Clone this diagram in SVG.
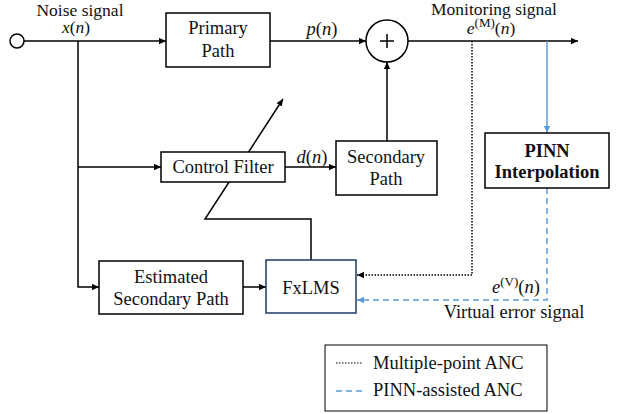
<svg xmlns="http://www.w3.org/2000/svg" width="618" height="414" viewBox="0 0 618 414">
<defs>
<marker id="ah" viewBox="0 0 10 10" refX="10" refY="5" markerWidth="7" markerHeight="7" markerUnits="userSpaceOnUse" orient="auto"><path d="M0,0.5 L10,5 L0,9.5 z" fill="#000"/></marker>
<marker id="ahb" viewBox="0 0 10 10" refX="10" refY="5" markerWidth="7" markerHeight="7" markerUnits="userSpaceOnUse" orient="auto"><path d="M0,0.5 L10,5 L0,9.5 z" fill="#5B9BD5"/></marker>
<style>
.t{font-family:"Liberation Serif","Times New Roman",serif;font-size:18.5px;fill:#111;text-anchor:middle}
.sm{font-size:17.5px}
.b{font-weight:bold}
.i{font-style:italic}
.s{font-size:13px}
.box{fill:#fff;stroke:#000;stroke-width:1.5}
.ln{fill:none;stroke:#000;stroke-width:1.5}
.dot{fill:none;stroke:#000;stroke-width:1.5;stroke-dasharray:1.5 1.5}
.bl{fill:none;stroke:#5B9BD5;stroke-width:1.5}
.bd{fill:none;stroke:#5B9BD5;stroke-width:1.5;stroke-dasharray:6 4}
</style>
</defs>
<rect width="618" height="414" fill="#fff"/>
<g id="connectors">
<path class="ln" d="M24,41 H166" marker-end="url(#ah)"/>
<path class="ln" d="M270,41 H366" marker-end="url(#ah)"/>
<path class="ln" d="M408,41 H578" marker-end="url(#ah)"/>
<path class="ln" d="M78,41 V287 H99" marker-end="url(#ah)"/>
<path class="ln" d="M78,167 H161" marker-end="url(#ah)"/>
<path class="ln" d="M285,167 H336" marker-end="url(#ah)"/>
<path class="ln" d="M387,141 V62" marker-end="url(#ah)"/>
<path class="ln" d="M243,287 H266" marker-end="url(#ah)"/>
<path class="ln" d="M311,260 V219 H205 L283,99" marker-end="url(#ah)"/>
<path class="dot" d="M472,41 V275 H357" marker-end="url(#ah)"/>
<path class="bl" d="M547,41 V133" marker-end="url(#ahb)"/>
<path class="bd" d="M547,188 V300 H357" marker-end="url(#ahb)"/>
</g>
<g id="source"><circle cx="17" cy="41" r="7" fill="#fff" stroke="#000" stroke-width="1.5"/></g>
<g id="noise-label">
<text class="t sm" x="80" y="16">Noise signal</text>
<text class="t sm" x="76" y="33"><tspan class="i">x</tspan>(<tspan class="i">n</tspan>)</text>
</g>
<g id="primary-path">
<rect class="box" x="166" y="13" width="104" height="54"/>
<text class="t" x="218" y="34">Primary</text>
<text class="t" x="218" y="57">Path</text>
</g>
<text class="t" x="322" y="35"><tspan class="i">p</tspan>(<tspan class="i">n</tspan>)</text>
<g id="sum">
<circle cx="387" cy="41" r="21" fill="#fff" stroke="#000" stroke-width="1.5"/>
<path class="ln" d="M380,41 H394 M387,34 V48"/>
</g>
<g id="monitoring-label">
<text class="t sm" x="494" y="15">Monitoring signal</text>
<text class="t sm" x="491" y="34"><tspan class="i">e</tspan><tspan class="s" dy="-7">(M)</tspan><tspan dy="7">(</tspan><tspan class="i">n</tspan>)</text>
</g>
<g id="control-filter">
<rect class="box" x="161" y="152" width="124" height="30"/>
<text class="t" x="223" y="173">Control Filter</text>
</g>
<text class="t" x="312" y="163"><tspan class="i">d</tspan>(<tspan class="i">n</tspan>)</text>
<g id="secondary-path">
<rect class="box" x="336" y="141" width="101" height="54"/>
<text class="t" x="386" y="163">Secondary</text>
<text class="t" x="386" y="185">Path</text>
</g>
<g id="pinn">
<rect class="box" x="485" y="133" width="124" height="55" stroke-width="2"/>
<text class="t b" x="547" y="157">PINN</text>
<text class="t b" x="547" y="178">Interpolation</text>
</g>
<g id="estimated-secondary-path">
<rect class="box" x="99" y="261" width="144" height="53"/>
<text class="t" x="171" y="283">Estimated</text>
<text class="t" x="171" y="305">Secondary Path</text>
</g>
<g id="fxlms">
<rect x="266" y="260" width="90" height="53" fill="#fff" stroke="#1F3864" stroke-width="1.5"/>
<text class="t" x="311" y="294">FxLMS</text>
</g>
<g id="virtual-label">
<text class="t" x="516" y="293"><tspan class="i">e</tspan><tspan class="s" dy="-7">(V)</tspan><tspan dy="7">(</tspan><tspan class="i">n</tspan>)</text>
<text class="t" x="514" y="318">Virtual error signal</text>
</g>
<g id="legend">
<rect x="325" y="345" width="222" height="66" fill="#fff" stroke="#000" stroke-width="1"/>
<path d="M336,363 H363" fill="none" stroke="#000" stroke-width="1.2" stroke-dasharray="1.5 1.5"/>
<path d="M336,391 H363" fill="none" stroke="#5B9BD5" stroke-width="1.5" stroke-dasharray="6 4"/>
<text class="t" x="373" y="369" style="text-anchor:start">Multiple-point ANC</text>
<text class="t" x="373" y="396" style="text-anchor:start">PINN-assisted ANC</text>
</g>
</svg>
